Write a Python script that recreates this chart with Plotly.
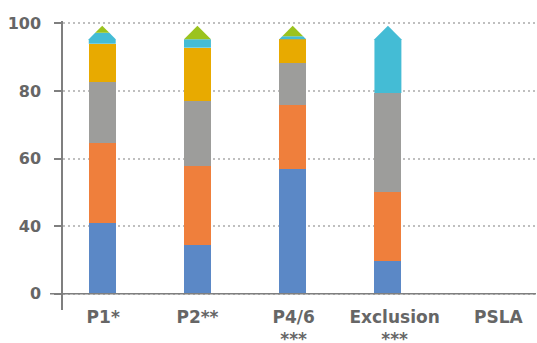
import numpy as np
import plotly.graph_objects as go

# Categories (x tick labels)
categories = ["P1*", "P2**", "P4/6<br>***", "Exclusion<br>***", "PSLA"]

# Segment heights, measured from the baseline in axis units
blue   = [20.8, 14.4, 36.9,  9.7, 0]
orange = [23.7, 23.5, 18.9, 20.5, 0]
gray   = [18.2, 19.1, 12.5, 29.2, 0]
yellow = [11.3, 15.8,  7.0,  0.0, 0]
cyan   = [ 3.2,  2.5,  0.9, 19.9, 0]
green  = [ 2.1,  4.0,  3.1,  0.0, 0]

# Y tick labels as printed on the chart
ytick_vals = [0, 20, 40, 60, 80]
ytick_text = ["0", "40", "60", "80", "100"]

# ---- styling ----
COLORS = {"blue": "#5B88C6", "orange": "#EF7F3C", "gray": "#9D9D9B",
          "yellow": "#E8AA00", "cyan": "#44BCD5", "green": "#9BC31E"}
BAR_W = 0.283
CAP = 4.0            # height of the pointed cap on each bar
AXIS_COL = "#7F7F7F"
TEXT_COL = "#666666"
FONT = "DejaVu Sans"
LABEL_SHIFT = [0.01, 0.0, 0.01, 0.07, 0.16]

x = np.arange(len(categories), dtype=float)
lower = [("blue", blue), ("orange", orange), ("gray", gray), ("yellow", yellow)]
upper = [("cyan", cyan), ("green", green)]

stack = np.vstack([blue, orange, gray, yellow, cyan, green]).astype(float)
totals = stack.sum(axis=0)

fig = go.Figure()

base = np.zeros(len(categories))
for name, vals in lower:
    v = np.array(vals, dtype=float)
    fig.add_trace(go.Bar(x=x, y=v, base=base.copy(), width=BAR_W,
                         marker=dict(color=COLORS[name], line=dict(width=0)),
                         name=name, showlegend=False, hoverinfo="skip"))
    base = base + v


def half_width(y, rect_top, apex):
    hw = BAR_W / 2
    if y <= rect_top:
        return hw
    return hw * max(apex - y, 0) / CAP


for name, vals in upper:
    v = np.array(vals, dtype=float)
    for i in range(len(categories)):
        if v[i] <= 0:
            continue
        lo, hi = base[i], base[i] + v[i]
        apex = totals[i]
        rtop = apex - CAP
        c = x[i]
        pts = [(c - half_width(lo, rtop, apex), lo)]
        if lo < rtop < hi:
            pts.append((c - BAR_W / 2, rtop))
        pts.append((c - half_width(hi, rtop, apex), hi))
        pts.append((c + half_width(hi, rtop, apex), hi))
        if lo < rtop < hi:
            pts.append((c + BAR_W / 2, rtop))
        pts.append((c + half_width(lo, rtop, apex), lo))
        pts.append(pts[0])
        fig.add_trace(go.Scatter(x=[p[0] for p in pts], y=[p[1] for p in pts],
                                 mode="lines", fill="toself",
                                 fillcolor=COLORS[name], line=dict(width=0),
                                 showlegend=False, hoverinfo="skip"))
    base = base + v

fig.update_layout(
    width=537, height=343,
    margin=dict(l=63, r=1, t=21, b=33),
    plot_bgcolor="white", paper_bgcolor="white",
    barmode="overlay", bargap=0,
    font=dict(family=FONT, color=TEXT_COL),
    showlegend=False,
    xaxis=dict(range=[-0.412, 4.555], showgrid=False, zeroline=False,
               showline=False, ticks="", automargin=False,
               tickvals=list(x + np.array(LABEL_SHIFT)), ticktext=categories,
               ticklabelstandoff=-5,
               tickfont=dict(family=FONT, size=17, color=TEXT_COL, weight="bold")),
    yaxis=dict(range=[-4.82, 80.7], tickvals=ytick_vals, ticktext=ytick_text,
               showline=True, linecolor=AXIS_COL, linewidth=1.5, automargin=False,
               ticks="outside", ticklen=7, tickcolor=AXIS_COL, tickwidth=1.5,
               showgrid=True, gridcolor="#BFBFBF", gridwidth=1.5,
               griddash="2px,3px", zeroline=False, ticklabelstandoff=10,
               tickfont=dict(family=FONT, size=16, color=TEXT_COL, weight="bold")),
    shapes=[dict(type="line", xref="paper", yref="y", x0=-13 / 473, x1=1,
                 y0=0, y1=0, line=dict(color=AXIS_COL, width=1.5), layer="above")],
)

fig.write_html("out.html",
               config={"displayModeBar": False},
               post_script="document.body.style.margin='0';"
                           "document.body.style.overflow='hidden';")
